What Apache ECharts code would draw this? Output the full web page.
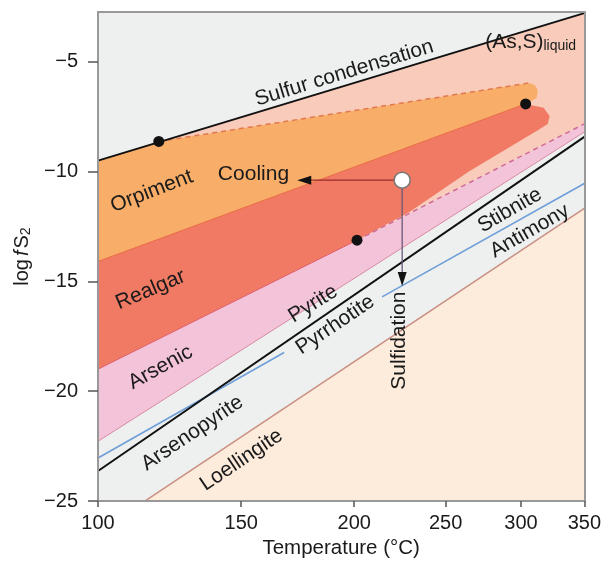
<!DOCTYPE html>
<html>
<head>
<meta charset="utf-8">
<script src="https://cdn.jsdelivr.net/npm/echarts@6/dist/echarts.min.js"></script>
<style>
html, body { margin: 0; padding: 0; background: #fff; }
#chart { width: 604px; height: 564px; }
</style>
</head>
<body>
<div id="chart"></div>
<script>
// x axis runs in 1000/T(K), labelled in °C
var tempTicks = [100, 150, 200, 250, 300, 350];
var logTicks = [-25, -20, -15, -10, -5];

// boundaries, [T °C, log fS2]
var sulfurLine = [[100, -9.51], [350, -2.8]];
var pyriteLine = [[100, -23.63], [350, -8.43]];
var stibniteLeft = [[100, -23.04], [167.7, -18.24]];
var stibniteRight = [[214.2, -15.71], [350, -10.55]];
var loellingiteLine = [[115, -25], [350, -11.68]];
var arsenicTop = [[100, -19.0], [201.4, -13.13]];
var arsenicTopDashed = [[201.4, -13.13], [350, -7.84]];
var arsenicBottom = [[100, -22.28], [350, -8.21]];
var orpimentRealgar = [[100, -14.1], [303.4, -6.93]];
var orpimentDashed = [[119.7, -8.64], [305.7, -5.98]];

// fields
var liquidField = [[100, -9.51], [350, -2.8], [350, -7.84], [201.4, -13.13], [100, -19.0]];
var arsenicField = [[100, -19.0], [201.4, -13.13], [350, -7.84], [350, -8.21], [100, -22.28]];
var loellingiteField = [[115, -25], [350, -11.68], [350, -25]];
var orpimentField = [[100, -14.1], [100, -9.51], [119.7, -8.64], [305.7, -5.98], [310.1, -6.07],
    [312.4, -6.3], [311.6, -6.66], [303.4, -6.93]];
var realgarField = [[100, -14.1], [303.4, -6.93], [316.9, -7.11], [321.6, -7.48], [320.1, -7.84],
    [313.1, -8.11], [264.5, -10.01], [228.8, -11.86], [201.4, -13.13], [100, -19.0]];

var blackDots = [[119.7, -8.64], [303.4, -6.93], [201.4, -13.13]];
var startPoint = [225, -10.4];
var coolingEnd = [176.5, -10.4];
var sulfidationEnd = [225, -14.9];

// field names: text, T, log fS2, angle
var fieldLabels = [
    ['Sulfur condensation', 195.1, -5.53, 17],
    ['Orpiment', 117.3, -10.91, 21],
    ['Cooling', 154.9, -10.14, 0],
    ['Realgar', 116.9, -15.39, 23],
    ['Arsenic', 120.3, -18.92, 29],
    ['Pyrite', 180.5, -16.03, 32],
    ['Pyrrhotite', 190.8, -16.98, 34],
    ['Arsenopyrite', 131.5, -21.91, 34],
    ['Loellingite', 150.1, -23.13, 34],
    ['Stibnite', 292.0, -11.77, 30],
    ['Antimony', 306.4, -12.72, 30],
    ['Sulfidation', 223.3, -17.7, 90]
];
var liquidLabel = [307.1, -4.13];

var FONT = 'Liberation Sans, Arial, sans-serif';
var INK = '#1a1a1a';

function toX(t) {
    return 1000 / (t + 273.15);
}

function pts(list) {
    return list.map(function (p) { return [toX(p[0]), p[1]]; });
}

function field(points, color) {
    return {
        type: 'custom',
        silent: true,
        clip: true,
        z: 1,
        data: [pts(points)[0]],
        renderItem: function (params, api) {
            return {
                type: 'polygon',
                shape: { points: points.map(function (p) { return api.coord([toX(p[0]), p[1]]); }) },
                style: { fill: color }
            };
        }
    };
}

function line(points, color, width, type) {
    return {
        type: 'line',
        silent: true,
        z: 3,
        showSymbol: false,
        data: pts(points),
        lineStyle: { color: color, width: width, type: type || 'solid' }
    };
}

function arrow(from, to, color, rotate) {
    return {
        type: 'line',
        silent: true,
        z: 4,
        showSymbol: true,
        symbol: 'none',
        lineStyle: { color: color, width: 1.3 },
        data: [
            { value: [toX(from[0]), from[1]], symbol: 'none' },
            { value: [toX(to[0]), to[1]], symbol: 'triangle', symbolSize: [9, 14], symbolRotate: rotate,
              itemStyle: { color: '#111', opacity: 1 } }
        ]
    };
}

var chart = echarts.init(document.getElementById('chart'));

var axisCommon = {
    type: 'value',
    splitLine: { show: false },
    axisLine: { show: true, lineStyle: { color: '#999', width: 2 } }
};

var series = [
    field(liquidField, '#f9cbbb'),
    field(arsenicField, '#f3c4d9'),
    field(loellingiteField, '#fdebdc'),
    field(orpimentField, '#f8ad69'),
    field(realgarField, '#f07a63'),
    line(arsenicBottom, '#d98aa0', 1),
    line(arsenicTop, '#e06070', 1),
    line(arsenicTopDashed, '#cf6c95', 1.5, [5, 4]),
    line(orpimentRealgar, '#ea6a45', 1),
    line(orpimentDashed, '#e07a4e', 1.5, [5, 4]),
    line(loellingiteLine, '#c98f84', 1.5),
    line(stibniteLeft, '#6f9fd8', 1.6),
    line(stibniteRight, '#6f9fd8', 1.6),
    line(pyriteLine, '#111', 2),
    line(sulfurLine, '#111', 2),
    arrow(startPoint, coolingEnd, '#9b2d2d', 90),
    arrow(startPoint, sulfidationEnd, '#6a5878', 180),
    {
        type: 'scatter',
        silent: true,
        z: 5,
        symbolSize: 11,
        itemStyle: { color: '#111', opacity: 1 },
        data: pts(blackDots)
    },
    {
        type: 'scatter',
        silent: true,
        z: 5,
        symbolSize: 16,
        itemStyle: { color: '#fff', borderColor: '#777', borderWidth: 1.5, opacity: 1 },
        data: pts([startPoint])
    },
    {
        type: 'scatter',
        silent: true,
        z: 6,
        symbolSize: 0,
        itemStyle: { opacity: 1 },
        data: fieldLabels.map(function (l) {
            return {
                value: [toX(l[1]), l[2]],
                name: l[0],
                label: { rotate: l[3] }
            };
        }),
        label: {
            show: true,
            position: 'inside',
            formatter: '{b}',
            color: INK,
            opacity: 1,
            textBorderWidth: 0,
            fontSize: 21,
            fontFamily: FONT
        }
    },
    {
        type: 'scatter',
        silent: true,
        z: 6,
        symbolSize: 0,
        itemStyle: { opacity: 1 },
        data: pts([liquidLabel]),
        label: {
            show: true,
            position: 'inside',
            formatter: '{a|(As,S)}{b|liquid}',
            color: INK,
            opacity: 1,
            textBorderWidth: 0,
            fontFamily: FONT,
            rich: {
                a: { fontSize: 21, lineHeight: 22, verticalAlign: 'top', color: INK, fontFamily: FONT,
                     textBorderWidth: 0 },
                b: { fontSize: 14, lineHeight: 14, verticalAlign: 'bottom', padding: [11, 0, 0, 0],
                     color: INK, fontFamily: FONT, textBorderWidth: 0 }
            }
        }
    }
];

var option = {
    animation: false,
    backgroundColor: '#fff',
    grid: {
        left: 98, right: 18, top: 12, bottom: 61,
        show: true,
        backgroundColor: '#eeefef',
        borderWidth: 0
    },
    xAxis: [
        Object.assign({}, axisCommon, {
            position: 'bottom',
            inverse: true,
            min: toX(350),
            max: toX(100),
            z: 10,
            name: 'Temperature (°C)',
            nameLocation: 'middle',
            nameGap: 34,
            nameTextStyle: { fontSize: 20.5, color: INK, fontFamily: FONT },
            axisTick: { show: true, length: 6, customValues: tempTicks.map(toX),
                        lineStyle: { color: '#555', width: 1.5 } },
            axisLabel: {
                customValues: tempTicks.map(toX),
                margin: 12,
                fontSize: 20,
                color: INK,
                fontFamily: FONT,
                formatter: function (v) { return Math.round(1000 / v - 273.15); }
            }
        }),
        {
            type: 'value', position: 'top', inverse: true, min: toX(350), max: toX(100), z: 10,
            splitLine: { show: false }, axisTick: { show: false }, axisLabel: { show: false },
            axisLine: { show: true, lineStyle: { color: '#999', width: 2 } }
        }
    ],
    yAxis: [
        Object.assign({}, axisCommon, {
            position: 'left',
            min: -25,
            max: -2.75,
            z: 10,
            name: '{t|log}{i|f}{t|S}{s|2}',
            nameLocation: 'middle',
            nameRotate: 90,
            nameGap: 60,
            nameTextStyle: {
                color: INK,
                rich: {
                    t: { fontSize: 20, lineHeight: 21, verticalAlign: 'top', fontFamily: FONT, color: INK },
                    i: { fontSize: 20, lineHeight: 21, verticalAlign: 'top', fontStyle: 'italic', fontFamily: FONT,
                         color: INK, padding: [0, 2, 0, 3] },
                    s: { fontSize: 14, lineHeight: 14, verticalAlign: 'bottom', padding: [10, 0, 0, 0],
                         fontFamily: FONT, color: INK }
                }
            },
            axisTick: { show: true, length: 10, customValues: logTicks, lineStyle: { color: '#555', width: 1.5 } },
            axisLabel: {
                customValues: logTicks,
                margin: 20,
                fontSize: 20,
                color: INK,
                fontFamily: FONT,
                formatter: function (v) { return String(v).replace('-', '\u2212'); }
            }
        }),
        {
            type: 'value', position: 'right', min: -25, max: -2.75, z: 10,
            splitLine: { show: false }, axisTick: { show: false }, axisLabel: { show: false },
            axisLine: { show: true, lineStyle: { color: '#999', width: 2 } }
        }
    ],
    series: series
};

chart.setOption(option);
</script>
</body>
</html>
